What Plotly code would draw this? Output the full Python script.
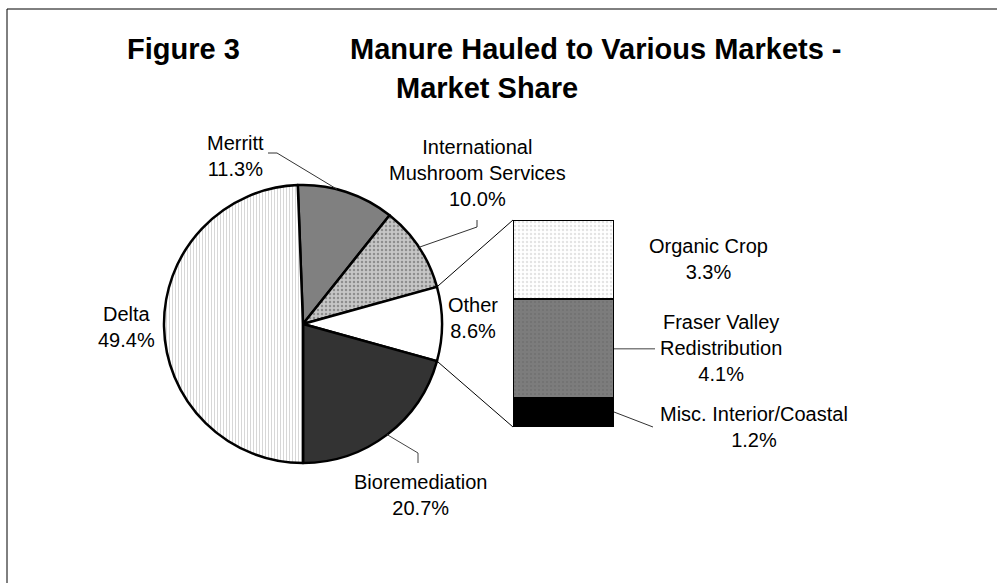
import math
import plotly.graph_objects as go

# ---------------- data ----------------
pie_names = ["Merritt", "International<br>Mushroom Services", "Other", "Bioremediation", "Delta"]
pie_values = [11.3, 10.0, 8.6, 20.7, 49.4]
bar_names = ["Misc. Interior/Coastal", "Fraser Valley<br>Redistribution", "Organic Crop"]
bar_values = [1.2, 4.1, 3.3]
title_left = "Figure 3"
title_right = "Manure Hauled to Various Markets -"
title_line2 = "Market Share"

# ---------------- layout helpers ----------------
W, H = 997, 583
def X(p):
    return p / W
def Y(p):
    return 1 - p / H

FONT = "Arial, 'Liberation Sans', sans-serif"
CX, CY, R = 303, 324, 139
BAR_L, BAR_R, BAR_T, BAR_B = 513, 614, 220, 427

total = sum(pie_values)
other_idx = pie_names.index("Other")
before_other = sum(pie_values[:other_idx])
# Excel pie-of-bar: the split slice is centred at 3 o'clock
rotation = 90 - (before_other + pie_values[other_idx] / 2) / total * 360

def slice_angle(frac_cum):
    return rotation + frac_cum / total * 360

def pie_pt(angle_deg):
    a = math.radians(angle_deg)
    return CX + R * math.sin(a), CY - R * math.cos(a)

fig = go.Figure()

fig.add_trace(go.Pie(
    labels=[n.replace("<br>", " ") for n in pie_names],
    values=pie_values,
    sort=False,
    direction="clockwise",
    rotation=rotation,
    textinfo="none",
    hoverinfo="label+percent",
    showlegend=False,
    domain=dict(x=[X(CX - R), X(CX + R)], y=[Y(CY + R), Y(CY - R)]),
    marker=dict(
        colors=["#808080", "#c6c6c6", "#ffffff", "#333333", "#ffffff"],
        line=dict(color="#000000", width=2.5),
        pattern=dict(
            shape=["", ".", "", "", "|"],
            fgcolor=["#808080", "#8e8e8e", "#ffffff", "#333333", "#bcbcbc"],
            bgcolor=["#808080", "#c6c6c6", "#ffffff", "#333333", "#ffffff"],
            size=[8, 4, 8, 8, 3],
            solidity=[0.3, 0.3, 0.3, 0.3, 0.2],
        ),
    ),
))

bar_colors = ["#000000", "#7c7c7c", "#ffffff"]
bar_fg = ["#000000", "#6a6a6a", "#c8c8c8"]
bar_shape = ["", ".", "."]
for name, v, c, fg, sh in zip(bar_names, bar_values, bar_colors, bar_fg, bar_shape):
    fig.add_trace(go.Bar(
        x=[0], y=[v], name=name.replace("<br>", " "),
        marker=dict(color=c, line=dict(color="#000000", width=2),
                    pattern=dict(shape=sh, fgcolor=fg, bgcolor=c, size=4, solidity=0.3)),
        width=1, showlegend=False, xaxis="x", yaxis="y",
    ))

shapes = []
def line(points, color="#000000", width=1):
    path = "M " + " L ".join(f"{X(px):.5f},{Y(py):.5f}" for px, py in points)
    shapes.append(dict(type="path", path=path, xref="paper", yref="paper",
                       line=dict(color=color, width=width)))

# frame (top/left edges visible)
shapes.append(dict(type="rect", xref="paper", yref="paper",
                   x0=X(7), x1=X(1010), y0=Y(600), y1=Y(9),
                   line=dict(color="#000000", width=1)))

# connectors between "Other" slice and bar
a1 = slice_angle(before_other)
a2 = slice_angle(before_other + pie_values[other_idx])
line([pie_pt(a1), (BAR_L, BAR_T)])
line([pie_pt(a2), (BAR_L, BAR_B)])

# leader lines
cum = [sum(pie_values[:i]) for i in range(len(pie_values))]
mid = [slice_angle(cum[i] + pie_values[i] / 2) for i in range(len(pie_values))]
line([(268, 153), (277, 153), pie_pt(mid[0] - 4)], color="#333333")
line([(477, 220), (477, 227), pie_pt(mid[1])], color="#333333")
line([pie_pt(mid[3]), (418, 453), (418, 463)], color="#444444")
bar_total = sum(bar_values)
def bar_y(v):
    return BAR_B - v / bar_total * (BAR_B - BAR_T)
line([(BAR_R, bar_y(bar_values[0] + bar_values[1] / 2)), (655, bar_y(bar_values[0] + bar_values[1] / 2))],
     color="#808080", width=1.5)
line([(BAR_R, 412), (653, 427)], color="#333333")

ann = []
def label(text, x, y, size=20, bold=False, xanchor="center"):
    ann.append(dict(text=f"<b>{text}</b>" if bold else text, x=X(x), y=Y(y),
                    xref="paper", yref="paper", showarrow=False,
                    xanchor=xanchor, yanchor="middle", align="center",
                    font=dict(family=FONT, size=size, color="#000000")))

label(title_left, 125, 49, size=29, bold=True, xanchor="left")
label(title_right, 348, 49, size=29, bold=True, xanchor="left")
label(title_line2, 394, 88, size=29, bold=True, xanchor="left")

pie_label_pos = [(235, 156), (477, 173), (473, 318), (420, 495), (127, 327)]
for n, v, (lx, ly) in zip(pie_names, pie_values, pie_label_pos):
    label(f"{n}<br>{v:.1f}%", lx, ly)
bar_label_pos = [(754, 427), (721, 348), (708, 259)]
for n, v, (lx, ly) in zip(bar_names, bar_values, bar_label_pos):
    label(f"{n}<br>{v:.1f}%", lx, ly)

fig.update_layout(
    width=W, height=H,
    margin=dict(l=0, r=0, t=0, b=0),
    paper_bgcolor="#ffffff", plot_bgcolor="rgba(0,0,0,0)",
    barmode="stack", bargap=0,
    xaxis=dict(domain=[X(BAR_L), X(BAR_R)], range=[-0.5, 0.5], visible=False, fixedrange=True),
    yaxis=dict(domain=[Y(BAR_B), Y(BAR_T)], range=[0, bar_total], visible=False, fixedrange=True),
    shapes=shapes, annotations=ann,
    font=dict(family=FONT),
)

fig.write_html("out.html", config={"displayModeBar": False},
               post_script="document.body.style.margin='0';document.body.style.overflow='hidden';")
